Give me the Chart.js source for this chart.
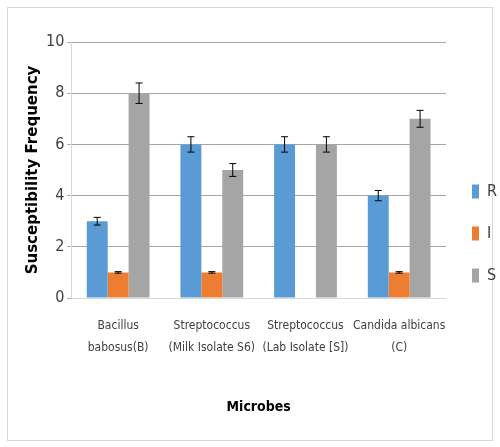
<!DOCTYPE html>
<html lang="en">
<head>
    <meta charset="UTF-8">
    <title>Susceptibility Frequency</title>
    <script src="https://cdn.jsdelivr.net/npm/chart.js"></script>
    <style>
        body { margin: 0; background: #fff; }
        .frame { position: absolute; left: 7px; top: 7px; width: 484px; height: 432px; border: 1px solid #d9d9d9; }
        .wrap { position: absolute; left: 0; top: 0; width: 500px; height: 447px; }
    </style>
</head>
<body>
    <div class="frame"></div>
    <div class="wrap"><canvas id="chart"></canvas></div>

    <script>
        // chart values
        const microbes = [
            ["Bacillus", "babosus(B)"],
            ["Streptococcus", "(Milk Isolate S6)"],
            ["Streptococcus", "(Lab Isolate [S])"],
            ["Candida albicans", "(C)"]
        ];
        const rValues = [3, 6, 6, 4];
        const iValues = [1, 1, null, 1];
        const sValues = [8, 5, 6, 7];
        const rErrors = [0.15, 0.3, 0.3, 0.2];
        const iErrors = [0.03, 0.03, 0, 0.03];
        const sErrors = [0.4, 0.25, 0.3, 0.33];

        const font = "'DejaVu Sans Condensed', 'Liberation Sans Narrow', Arial, sans-serif";

        // draws error bars on top of each bar using the y scale
        const errorBars = {
            id: "errorBars",
            afterDatasetsDraw(chart) {
                const ctx = chart.ctx;
                const y = chart.scales.y;
                chart.data.datasets.forEach((ds, i) => {
                    const meta = chart.getDatasetMeta(i);
                    meta.data.forEach((bar, j) => {
                        const v = ds.data[j];
                        const e = ds.errors[j];
                        if (v == null || !e) return;
                        const top = y.getPixelForValue(v + e);
                        const bot = y.getPixelForValue(v - e);
                        ctx.save();
                        ctx.strokeStyle = "#000";
                        ctx.lineWidth = 1;
                        ctx.beginPath();
                        ctx.moveTo(bar.x, top);
                        ctx.lineTo(bar.x, bot);
                        ctx.moveTo(bar.x - 3.5, top);
                        ctx.lineTo(bar.x + 3.5, top);
                        ctx.moveTo(bar.x - 3.5, bot);
                        ctx.lineTo(bar.x + 3.5, bot);
                        ctx.stroke();
                        ctx.restore();
                    });
                });
            }
        };

        new Chart(document.getElementById("chart"), {
            type: "bar",
            data: {
                labels: microbes,
                datasets: [
                    { label: "R", data: rValues, errors: rErrors, backgroundColor: "#5B9BD5" },
                    { label: "I", data: iValues, errors: iErrors, backgroundColor: "#ED7D31" },
                    { label: "S", data: sValues, errors: sErrors, backgroundColor: "#A5A5A5" }
                ]
            },
            options: {
                responsive: true,
                maintainAspectRatio: false,
                animation: false,
                categoryPercentage: 0.67,
                barPercentage: 1,
                layout: { padding: { left: 24, right: -7, top: 42, bottom: 22 } },
                plugins: {
                    tooltip: { enabled: false },
                    legend: {
                        position: "right",
                        align: "center",
                        labels: {
                            boxWidth: 7,
                            boxHeight: 14,
                            padding: 26,
                            color: "#404040",
                            font: { family: font, size: 16 }
                        }
                    }
                },
                scales: {
                    x: {
                        grid: { display: false },
                        border: { color: "#d9d9d9" },
                        ticks: { color: "#404040", font: { family: font, size: 12, lineHeight: 1.8 }, maxRotation: 0, autoSkip: false, padding: 9 },
                        title: { display: true, text: "Microbes", color: "#000", font: { family: font, size: 14, weight: "bold" }, padding: { top: 32, bottom: 9 } }
                    },
                    y: {
                        min: 0,
                        max: 10,
                        ticks: { stepSize: 2, color: "#404040", font: { family: font, size: 16 }, padding: 3 },
                        grid: { color: "#a6a6a6", tickColor: "#a6a6a6", tickLength: 4 },
                        border: { color: "#d9d9d9" },
                        title: { display: true, text: "Susceptibility Frequency", color: "#000", font: { family: "'DejaVu Sans', sans-serif", size: 15, weight: "bold" }, padding: { top: 0, bottom: 1 } }
                    }
                }
            },
            plugins: [errorBars]
        });
    </script>
</body>
</html>
